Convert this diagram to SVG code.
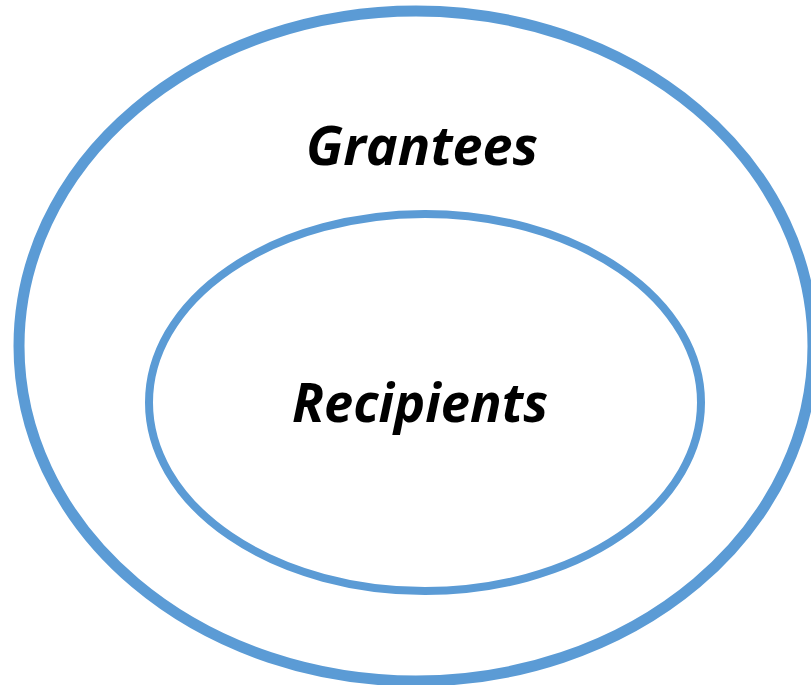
<svg xmlns="http://www.w3.org/2000/svg" width="811" height="685" viewBox="0 0 811 685">
<style>
.ring{fill:none;stroke:#5B9BD5}
.lbl{font-family:"Open Sans","Liberation Sans",sans-serif;font-weight:bold;font-style:italic;font-size:54px;fill:#000;text-anchor:middle}
</style>
<rect width="811" height="685" fill="#fff"/>
<g id="grantees">
<ellipse class="ring" cx="416" cy="346" rx="397" ry="335" stroke-width="11"/>
<text class="lbl" x="422" y="165" textLength="232" lengthAdjust="spacingAndGlyphs">Grantees</text>
</g>
<g id="recipients">
<ellipse class="ring" cx="425" cy="402.5" rx="276" ry="188.5" stroke-width="8"/>
<text class="lbl" x="420" y="422" textLength="256" lengthAdjust="spacingAndGlyphs">Recipients</text>
</g>
<g id="connectors"/>
</svg>
